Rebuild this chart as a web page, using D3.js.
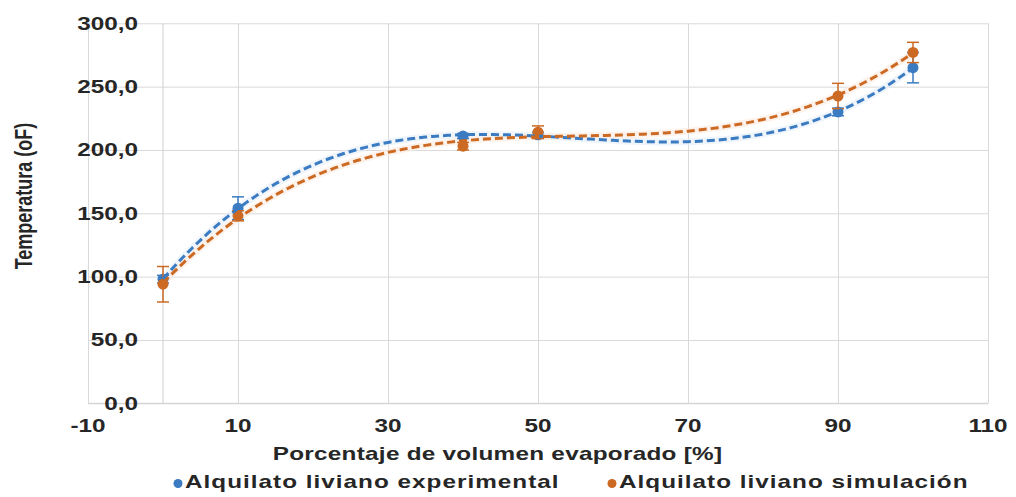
<!DOCTYPE html>
<html>
<head>
<meta charset="utf-8">
<script src="https://cdn.jsdelivr.net/npm/d3@7"></script>
<style>
  html, body { margin: 0; padding: 0; background: #fff; }
  svg { display: block; }
  text { font-family: "Liberation Sans", Arial, sans-serif; font-weight: bold; fill: #262626; }
</style>
</head>
<body>
<svg id="chart" width="1016" height="497"></svg>
<script>
// ---- data ----
const xValues = [0, 10, 40, 50, 90, 100];
const expValues = [98, 154, 211, 212, 230, 265];
const expErrors = [3, 9, 2, 2, 3, 12];
const simValues = [94, 148, 203, 214, 242.6, 277];
const simErrors = [14, 4, 3, 5, 10, 8];
const xTicks = [-10, 10, 30, 50, 70, 90, 110];
const yTicks = [0, 50, 100, 150, 200, 250, 300];
const seriesNames = ["Alquilato liviano experimental", "Alquilato liviano simulación"];
const xTitle = "Porcentaje de volumen evaporado [%]";
const yTitle = "Temperatura (oF)";

const colors = ["#3a7bc2", "#cc6a24"];
const halos = ["#e4eef8", "#fcebdf"];
const SX = 1.35; // horizontal stretch of the text in the reference

const svg = d3.select("#chart");
const x = d3.scaleLinear().domain([-10, 110]).range([88, 988]);
const y = d3.scaleLinear().domain([0, 300]).range([403.3, 23.3]);

// ---- gridlines ----
const gy = svg.append("g").attr("transform", `translate(${x(110)},0)`)
  .call(d3.axisLeft(y).tickValues(yTicks).tickSize(x(110) - x(-10)).tickFormat(""));
gy.select(".domain").remove();
gy.selectAll("line").attr("stroke", "#d9d9d9").attr("stroke-width", 1);

const gx = svg.append("g").attr("transform", `translate(0,${y(0)})`)
  .call(d3.axisBottom(x).tickValues(xTicks).tickSize(-(y(0) - y(300))).tickFormat(""));
gx.select(".domain").remove();
gx.selectAll("line").attr("stroke", "#d9d9d9").attr("stroke-width", 1);

// axis lines
svg.append("line").attr("x1", x(0)).attr("x2", x(0)).attr("y1", y(0)).attr("y2", y(300))
  .attr("stroke", "#d0d0d0").attr("stroke-width", 1);
svg.append("line").attr("x1", x(-10)).attr("x2", x(110)).attr("y1", y(0)).attr("y2", y(0))
  .attr("stroke", "#d0d0d0").attr("stroke-width", 1);

// ---- tick labels ----
const fmt = v => d3.format(".1f")(v).replace(".", ",");
svg.append("g").selectAll("text").data(yTicks).join("text")
  .attr("transform", d => `translate(${x(0) - 25},${y(d) + 6.5}) scale(${SX},1)`)
  .attr("text-anchor", "end").attr("font-size", 18).text(fmt);
svg.append("g").selectAll("text").data(xTicks).join("text")
  .attr("transform", d => `translate(${x(d)},431.5) scale(${SX},1)`)
  .attr("text-anchor", "middle").attr("font-size", 18).text(d => d);

// ---- titles ----
svg.append("text").attr("transform", `translate(497.5,460) scale(${SX},1)`)
  .attr("text-anchor", "middle").attr("font-size", 18).attr("letter-spacing", 0.2).text(xTitle);
svg.append("text").attr("transform", `translate(31.5,196) scale(${SX},1) rotate(-90)`)
  .attr("text-anchor", "middle").attr("font-size", 18).text(yTitle);

// ---- polynomial trendline (least squares, order 3) ----
function polyfit(xs, ys, order) {
  const n = order + 1;
  const A = Array.from({length: n}, () => new Array(n + 1).fill(0));
  xs.forEach((xv, k) => {
    const t = xv / 100;
    for (let i = 0; i < n; i++) {
      for (let j = 0; j < n; j++) A[i][j] += Math.pow(t, i + j);
      A[i][n] += ys[k] * Math.pow(t, i);
    }
  });
  for (let c = 0; c < n; c++) {
    let p = c;
    for (let r = c + 1; r < n; r++) if (Math.abs(A[r][c]) > Math.abs(A[p][c])) p = r;
    [A[c], A[p]] = [A[p], A[c]];
    for (let r = 0; r < n; r++) {
      if (r === c) continue;
      const f = A[r][c] / A[c][c];
      for (let k = c; k <= n; k++) A[r][k] -= f * A[c][k];
    }
  }
  const coef = A.map((row, i) => row[n] / row[i]);
  return xv => coef.reduce((s, c, i) => s + c * Math.pow(xv / 100, i), 0);
}

const series = [
  {vals: expValues, errs: expErrors},
  {vals: simValues, errs: simErrors}
];

const line = d3.line().x(d => x(d[0])).y(d => y(d[1])).curve(d3.curveLinear);
const trends = series.map(s => {
  const f = polyfit(xValues, s.vals, 3);
  const xs = d3.range(xValues[0], xValues[xValues.length - 1] + 0.01, 1);
  return xs.map(v => [v, f(v)]);
});

// halos under everything
trends.forEach((t, i) => {
  svg.append("path").attr("d", line(t)).attr("fill", "none")
    .attr("stroke", halos[i]).attr("stroke-width", 7).attr("stroke-opacity", 0.6)
    .attr("stroke-linecap", "round");
});

series.forEach((s, i) => {
  const pts = xValues.map((xv, k) => ({x: xv, y: s.vals[k], e: s.errs[k]}));
  const g = svg.append("g");
  g.selectAll("line.eb").data(pts).join("line")
    .attr("x1", d => x(d.x)).attr("x2", d => x(d.x))
    .attr("y1", d => y(d.y - d.e)).attr("y2", d => y(d.y + d.e))
    .attr("stroke", colors[i]).attr("stroke-width", 1.5);
  [-1, 1].forEach(sg => {
    g.selectAll(null).data(pts).join("line")
      .attr("x1", d => x(d.x) - 6).attr("x2", d => x(d.x) + 6)
      .attr("y1", d => y(d.y + sg * d.e)).attr("y2", d => y(d.y + sg * d.e))
      .attr("stroke", colors[i]).attr("stroke-width", 1.5);
  });
  g.selectAll("circle").data(pts).join("circle")
    .attr("cx", d => x(d.x)).attr("cy", d => y(d.y)).attr("r", 5.5)
    .attr("fill", colors[i]);
});

trends.forEach((t, i) => {
  svg.append("path").attr("d", line(t)).attr("fill", "none")
    .attr("stroke", colors[i]).attr("stroke-width", 3).attr("stroke-dasharray", "8,4");
});

// ---- legend ----
const legendX = [178, 612];
seriesNames.forEach((name, i) => {
  svg.append("circle").attr("cx", legendX[i]).attr("cy", 483.5).attr("r", 4.5).attr("fill", colors[i]);
  svg.append("text").attr("transform", `translate(${legendX[i] + 7},488) scale(${SX},1)`)
    .attr("font-size", 18).attr("letter-spacing", 0.75).text(name);
});
</script>
</body>
</html>
